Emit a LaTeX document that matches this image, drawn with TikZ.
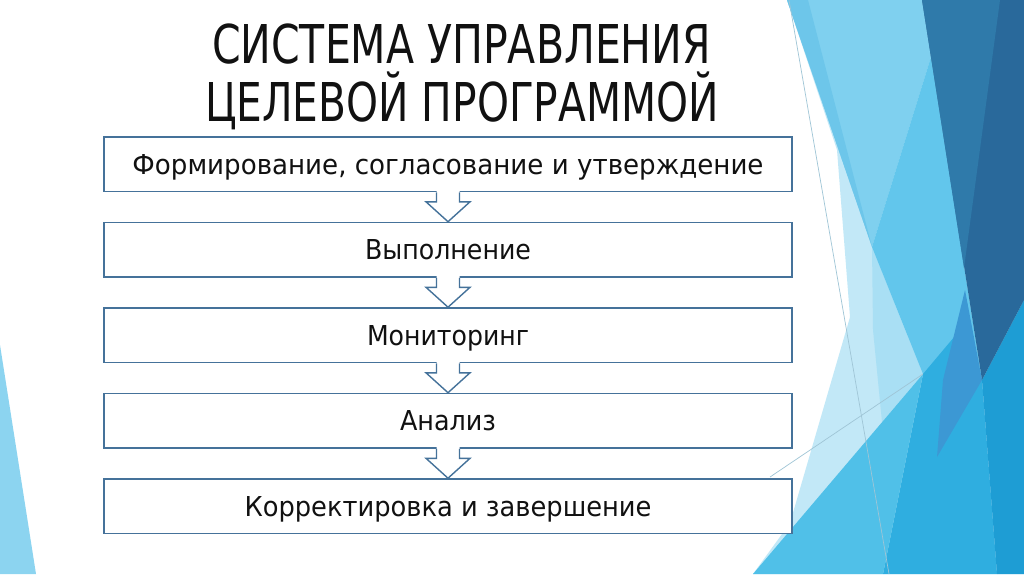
\documentclass[tikz,border=0pt]{standalone}
\usepackage{fontspec}
\setmainfont{DejaVu Sans}
\usepackage{graphicx}
\usetikzlibrary{calc}
\definecolor{boxc}{HTML}{45729A}
\definecolor{txtc}{HTML}{111111}
\definecolor{paleb}{HTML}{C2E8F7}
\definecolor{tintb}{HTML}{A9DFF4}
\definecolor{lightb}{HTML}{7FD0EF}
\definecolor{stripeb}{HTML}{6DC6EA}
\definecolor{midb}{HTML}{62C6EC}
\definecolor{darkA}{HTML}{2F7AAA}
\definecolor{darkB}{HTML}{29699B}
\definecolor{sliverb}{HTML}{3C98D4}
\definecolor{brightA}{HTML}{50C0E8}
\definecolor{brightB}{HTML}{2FAEE0}
\definecolor{brightC}{HTML}{1E9DD4}
\definecolor{leftb}{HTML}{8CD4F0}
\definecolor{thinl}{HTML}{9FC5D6}
\newcommand{\fitw}[2]{\resizebox{#1pt}{\height}{#2}}
\newcommand{\flowarrow}[2]{%
  \fill[white] ($(#1.south)+(-11.5,-2)$) -- ($(#1.south)+(-11.5,9.5)$) -- ($(#1.south)+(-22,9.5)$) -- (#2.north) -- ($(#1.south)+(22,9.5)$) -- ($(#1.south)+(11.5,9.5)$) -- ($(#1.south)+(11.5,-2)$) -- cycle;
  \draw[arrowline] ($(#1.south)+(-11.5,0)$) -- ($(#1.south)+(-11.5,9.5)$) -- ($(#1.south)+(-22,9.5)$) -- (#2.north) -- ($(#1.south)+(22,9.5)$) -- ($(#1.south)+(11.5,9.5)$) -- ($(#1.south)+(11.5,0)$);}
\begin{document}
\begin{tikzpicture}[x=1pt,y=-1pt,
  stepbox/.style={draw=boxc, line width=1.6pt, fill=white, minimum width=688pt,
    minimum height=54.5pt, inner sep=0pt, text height=20pt, text depth=0pt,
    font=\fontsize{27.4}{30}\selectfont, text=txtc},
  titletxt/.style={inner sep=0pt, anchor=base, font=\fontsize{53.5}{60}\selectfont, text=txtc},
  arrowline/.style={draw=boxc, line width=1.4pt, line join=miter},
  thin/.style={draw=thinl, line width=0.7pt}]
\useasboundingbox (0,0) rectangle (1024,574);
\fill[white] (0,0) rectangle (1024,574);
% left decoration
\fill[leftb] (0,345) -- (36,574) -- (0,574) -- cycle;
% right decoration
\fill[paleb] (787,0) -- (1024,0) -- (1024,574) -- (753,574) -- (790,523) -- (850,317) -- (837,150) -- cycle;
\fill[tintb] (872,247) -- (923,374) -- (882,422) -- (873,330) -- cycle;
\fill[lightb] (787,0) -- (922,0) -- (931,57) -- (872,247) -- cycle;
\fill[stripeb] (787,0) -- (808,0) -- (872,247) -- cycle;
\fill[midb] (931,57) -- (982,380) -- (923,374) -- (872,247) -- cycle;
\fill[brightB] (883,574) -- (923,374) -- (960,330) -- (982,380) -- (997,574) -- cycle;
\fill[brightA] (753,574) -- (923,374) -- (883,574) -- cycle;
\fill[brightC] (982,380) -- (1024,300) -- (1024,574) -- (997,574) -- cycle;
\fill[sliverb] (965,290) -- (982,380) -- (937,457) -- (943,380) -- cycle;
\fill[darkB] (922,0) -- (1024,0) -- (1024,300) -- (982,380) -- cycle;
\fill[darkA] (922,0) -- (1000,0) -- (964,268) -- cycle;
\coordinate (la) at (789,0);
\coordinate (lb) at (889,574);
\coordinate (lc) at (770,477);
\coordinate (ld) at (923,374);
\draw[thin] (la) -- (lb);
\draw[thin] (lc) -- (ld);
% title
\node[titletxt] (title1) at (461.5,63) {\fitw{499}{СИСТЕМА УПРАВЛЕНИЯ}};
\node[titletxt] (title2) at (462,121) {\fitw{514}{ЦЕЛЕВОЙ ПРОГРАММОЙ}};
% boxes
\node[stepbox] (b1) at (448,164.25) {\fitw{631}{Формирование, согласование и утверждение}};
\node[stepbox] (b2) at (448,249.75) {\fitw{166}{Выполнение}};
\node[stepbox] (b3) at (448,335.25) {\fitw{162}{Мониторинг}};
\node[stepbox] (b4) at (448,420.75) {\fitw{96}{Анализ}};
\node[stepbox] (b5) at (448,506.25) {\fitw{407}{Корректировка и завершение}};
\flowarrow{b1}{b2}
\flowarrow{b2}{b3}
\flowarrow{b3}{b4}
\flowarrow{b4}{b5}
\end{tikzpicture}
\end{document}
